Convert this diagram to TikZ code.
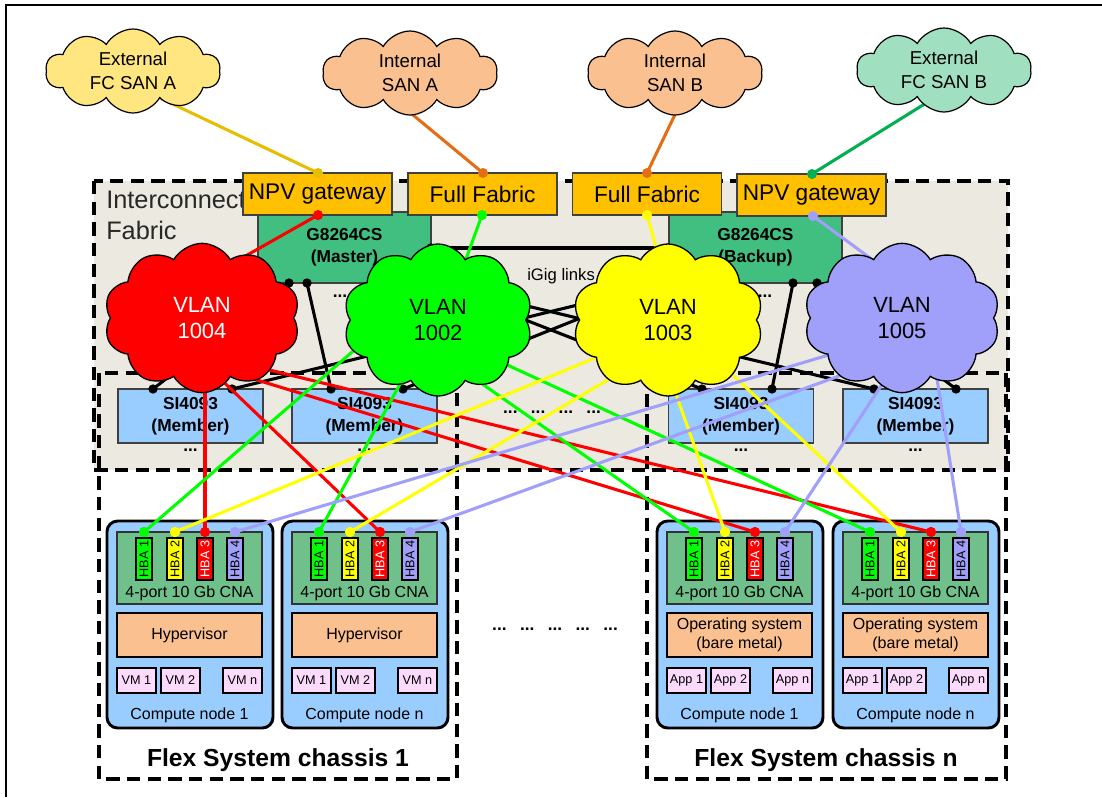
\documentclass[tikz,border=0pt]{standalone}
\usepackage{fontspec}
\setmainfont{Liberation Sans}
\usetikzlibrary{shapes.symbols}
\definecolor{beige}{RGB}{236,233,224}
\definecolor{orangebox}{RGB}{255,192,0}
\definecolor{gsw}{RGB}{64,191,128}
\definecolor{sibox}{RGB}{153,204,255}
\definecolor{cnagreen}{RGB}{112,192,140}
\definecolor{peach}{RGB}{250,192,144}
\definecolor{vmpink}{RGB}{252,218,252}
\definecolor{vred}{RGB}{255,0,0}
\definecolor{vgreen}{RGB}{0,255,0}
\definecolor{vyellow}{RGB}{255,255,0}
\definecolor{vlav}{RGB}{160,160,250}
\definecolor{sanA}{RGB}{255,230,128}
\definecolor{sanI}{RGB}{250,192,144}
\definecolor{sanB}{RGB}{160,224,192}
\definecolor{goldline}{RGB}{230,190,0}
\definecolor{orline}{RGB}{228,110,20}
\definecolor{grline}{RGB}{0,176,80}
\definecolor{txtgray}{RGB}{40,40,40}

\newcommand\cnnode[5]{%
\begin{scope}[shift={(#2,0)}]
\node[cnbox] (#1) at (83,624.5) {};
\node[cnabox] (#1cna) at (82.5,568) {};
\node[hba, fill=vgreen] (#1h1) at (37,559) {HBA 1};
\node[hba, fill=vyellow] (#1h2) at (68,559) {HBA 2};
\node[hba, fill=vred, text=white] (#1h3) at (98,559) {HBA 3};
\node[hba, fill=vlav] (#1h4) at (128,559) {HBA 4};
\node[ctext] (#1t) at (82.5,593) {4-port 10 Gb CNA};
\node[midbox] (#1m) at (82.5,635) {#3};
\node[itembox] (#1i1) at (29.5,680.5) {#4 1};
\node[itembox] (#1i2) at (73.5,680.5) {#4 2};
\node[itembox] (#1i3) at (135.5,680.5) {#4 n};
\node[ctext] (#1l) at (82.5,715) {#5};
\end{scope}}

\newcommand\cndots[2]{%
\begin{scope}[shift={(#2,0)}]
\node[cdot=vgreen] (#1d1) at (37,532) {};
\node[cdot=vyellow] (#1d2) at (68,532) {};
\node[cdot=vred] (#1d3) at (98,532) {};
\node[cdot=vlav] (#1d4) at (128,532) {};
\end{scope}}

\begin{document}
\begin{tikzpicture}[x=0.75pt,y=-0.75pt,
  dashbox/.style={draw=black, line width=2.7pt, dash pattern=on 10pt off 5.5pt},
  obox/.style={draw=black!75, line width=0.9pt, fill=orangebox, minimum width=111.75pt, minimum height=31.5pt, inner sep=0, font=\fontsize{17}{20}\selectfont},
  gbox/.style={draw=black!75, line width=0.9pt, fill=gsw, minimum width=129.75pt, minimum height=53.25pt, inner sep=0, align=center, font=\bfseries\fontsize{13}{16.5}\selectfont},
  sbox/.style={draw=black!75, line width=0.9pt, fill=sibox, minimum width=108.75pt, minimum height=40.5pt, inner sep=0, align=center, font=\bfseries\fontsize{13}{16.5}\selectfont},
  bdots/.style={font=\bfseries\fontsize{13}{15}\selectfont, inner sep=0},
  vcloud/.style={cloud, cloud puffs=10, cloud puff arc=120, cloud ignores aspect, draw=black, line width=1pt, inner sep=0, align=center, font=\fontsize{16.5}{20}\selectfont},
  scloud/.style={cloud, cloud puffs=10, cloud puff arc=120, cloud ignores aspect, draw=black, line width=0.9pt, inner sep=0, align=center, minimum width=131pt, minimum height=63pt, font=\fontsize{14}{18}\selectfont},
  vlink/.style={line width=2.3pt},
  blink/.style={line width=2.3pt, draw=black},
  bdot/.style={circle, fill=black, inner sep=0, minimum size=7pt},
  cdot/.style={circle, fill=#1, inner sep=0, minimum size=7.5pt},
  cnbox/.style={draw=black, line width=2.2pt, fill=sibox, rounded corners=8pt, minimum width=124.5pt, minimum height=155.25pt, inner sep=0},
  cnabox/.style={draw=black!80, line width=1pt, fill=cnagreen, minimum width=108.75pt, minimum height=54pt, inner sep=0},
  hba/.style={draw=black, line width=1pt, rotate=90, minimum width=31.5pt, minimum height=12pt, inner sep=0, font=\fontsize{9.5}{11}\selectfont},
  ctext/.style={inner sep=0, font=\fontsize{12}{14}\selectfont},
  midbox/.style={draw=black, line width=1.5pt, fill=peach, minimum width=108.75pt, minimum height=33pt, inner sep=0, align=center, font=\fontsize{12}{14.25}\selectfont},
  itembox/.style={draw=black, line width=1.5pt, fill=vmpink, minimum width=29.25pt, minimum height=18.75pt, inner sep=0, font=\fontsize{9.5}{11}\selectfont},
]
\useasboundingbox (0,0) rectangle (1102,797);
\fill[white] (0,0) rectangle (1102,797);
\draw[line width=1.1pt] (1102,5) -- (6,5) -- (6,797);

% dashed frames
\draw[dashbox, fill=beige] (94,181) rectangle (1008,470);
\draw[dashbox] (99,373) rectangle (457,779);
\draw[dashbox] (647,373) rectangle (1006,779);

\node[anchor=west, inner sep=0, align=left, text=txtgray, font=\fontsize{19}{23.25}\selectfont] (ictext) at (106,215.5) {Interconnect\\Fabric};

% switches
\node[gbox] (master) at (344.5,247.5) {G8264CS\\(Master)};
\node[gbox] (backup) at (755.5,247.5) {G8264CS\\(Backup)};
\node[bdots] (mdots) at (340,296) {...};
\node[bdots] (bkdots) at (765,296) {...};
\node[anchor=west, inner sep=0, font=\fontsize{12.5}{14}\selectfont] (gig) at (527,276) {iGig links};

\node[sbox] (si1) at (190.5,416) {SI4093\\(Member)};
\node[sbox] (si2) at (364.5,416) {SI4093\\(Member)};
\node[sbox] (si3) at (741,416) {SI4093\\(Member)};
\node[sbox] (si4) at (915.5,416) {SI4093\\(Member)};
\node[bdots] (si1d) at (190.5,450) {...};
\node[bdots] (si2d) at (364.5,450) {...};
\node[bdots] (si3d) at (741,450) {...};
\node[bdots] (si4d) at (915.5,450) {...};
\node[bdots] (middots) at (552,412) {...\hspace{10pt}...\hspace{10pt}...\hspace{10pt}...};
\node[bdots] (botdots) at (555,629) {...\hspace{10pt}...\hspace{10pt}...\hspace{10pt}...\hspace{10pt}...};

% black link end points
\node[bdot] (mtr) at (431,248) {};
\node[bdot] (btl) at (668,248) {};
\node[bdot] (m1) at (289,283) {};
\node[bdot] (m2) at (307,283) {};
\node[bdot] (m3) at (431,283) {};
\node[bdot] (b1) at (668,283) {};
\node[bdot] (b2) at (793,283) {};
\node[bdot] (b3) at (817,283) {};
\node[bdot] (s1a) at (153,389) {};
\node[bdot] (s1b) at (232,389) {};
\node[bdot] (s2a) at (331,389) {};
\node[bdot] (s2b) at (403,389) {};
\node[bdot] (s3a) at (702,389) {};
\node[bdot] (s3b) at (772,389) {};
\node[bdot] (s4a) at (874,389) {};
\node[bdot] (s4b) at (956,389) {};
\draw[blink] (mtr.center) -- (btl.center);
\draw[blink] (m1.center) -- (s1a.center);
\draw[blink] (m2.center) -- (s2a.center);
\draw[blink] (m3.center) -- (s3a.center);
\draw[blink] (m3.center) -- (s4a.center);
\draw[blink] (b1.center) -- (s1b.center);
\draw[blink] (b1.center) -- (s2b.center);
\draw[blink] (b2.center) -- (s3b.center);
\draw[blink] (b3.center) -- (s4b.center);

% compute nodes
\cnnode{na}{107}{Hypervisor}{VM}{Compute node 1}
\cnnode{nb}{282}{Hypervisor}{VM}{Compute node n}
\cnnode{nc}{657}{Operating system\\(bare metal)}{App}{Compute node 1}
\cnnode{nd}{833}{Operating system\\(bare metal)}{App}{Compute node n}
\node[inner sep=0, font=\bfseries\fontsize{18.5}{22}\selectfont] (ch1) at (278,760) {Flex System chassis 1};
\node[inner sep=0, font=\bfseries\fontsize{18.5}{22}\selectfont] (chn) at (826,760) {Flex System chassis n};

% cloud-internal start points
\coordinate (rA) at (205,370); \coordinate (rB) at (208,367);
\coordinate (rC) at (221,369); \coordinate (rD) at (241,363);
\coordinate (gA) at (366,340); \coordinate (gB) at (411,364);
\coordinate (gC) at (448,360); \coordinate (gD) at (490,357);
\coordinate (yA) at (595,358); \coordinate (yB) at (633,365);
\coordinate (yC) at (667,369); \coordinate (yD) at (708,352);
\coordinate (lA) at (842,351); \coordinate (lB) at (861,368);
\coordinate (lC) at (896,363); \coordinate (lD) at (932,347);
\coordinate (rT) at (212,275); \coordinate (gT) at (458,281);
\coordinate (yT) at (667,285); \coordinate (lT) at (927,300);

\cndots{na}{107}
\cndots{nb}{282}
\cndots{nc}{657}
\cndots{nd}{833}

\begin{scope}[vlink]
\draw[vred] (rA) -- (nad3.center); \draw[vred] (rB) -- (nbd3.center);
\draw[vred] (rC) -- (ncd3.center); \draw[vred] (rD) -- (ndd3.center);
\draw[vgreen] (gA) -- (nad1.center); \draw[vgreen] (gB) -- (nbd1.center);
\draw[vgreen] (gC) -- (ncd1.center); \draw[vgreen] (gD) -- (ndd1.center);
\draw[vyellow] (yA) -- (nad2.center); \draw[vyellow] (yB) -- (nbd2.center);
\draw[vyellow] (yC) -- (ncd2.center); \draw[vyellow] (yD) -- (ndd2.center);
\draw[vlav] (lA) -- (nad4.center); \draw[vlav] (lB) -- (nbd4.center);
\draw[vlav] (lC) -- (ncd4.center); \draw[vlav] (lD) -- (ndd4.center);
\end{scope}

\cndots{na}{107}
\cndots{nb}{282}
\cndots{nc}{657}
\cndots{nd}{833}

% box-to-cloud lines
\node[cdot=vred] (npv1d) at (318,215) {};
\node[cdot=vgreen] (ff1d) at (482,215) {};
\node[cdot=vyellow] (ff2d) at (647,215) {};
\node[cdot=vlav] (npv2d) at (813,216) {};
\draw[vlink, vred] (npv1d.center) -- (rT);
\draw[vlink, vgreen] (ff1d.center) -- (gT);
\draw[vlink, vyellow] (ff2d.center) -- (yT);
\draw[vlink, vlav] (npv2d.center) -- (lT);

% VLAN clouds
\node[vcloud, fill=vred, text=white, minimum width=147pt, minimum height=112pt] (v1004) at (202,318) {VLAN\\1004};
\node[vcloud, fill=vgreen, minimum width=142pt, minimum height=114pt] (v1002) at (438,320) {VLAN\\1002};
\node[vcloud, fill=vyellow, minimum width=143pt, minimum height=114pt] (v1003) at (668,320) {VLAN\\1003};
\node[vcloud, fill=vlav, minimum width=147pt, minimum height=112pt] (v1005) at (902,318) {VLAN\\1005};

% orange boxes
\node[obox] (npv1) at (317.5,194) {NPV gateway};
\node[obox] (ff1) at (482.5,194) {Full Fabric};
\node[obox] (ff2) at (647,194) {Full Fabric};
\node[obox] (npv2) at (811.5,195) {NPV gateway};
\node[cdot=vred] (npv1d) at (318,215) {};
\node[cdot=vgreen] (ff1d) at (482,215) {};
\node[cdot=vyellow] (ff2d) at (647,215) {};
\node[cdot=vlav] (npv2d) at (813,216) {};

% SAN clouds
\coordinate (sa) at (139,88); \coordinate (sia) at (395,100);
\coordinate (sib) at (681,102); \coordinate (sb) at (939,95);
\node[cdot=goldline] (npv1t) at (318,173) {};
\node[cdot=orline] (ff1t) at (483,173) {};
\node[cdot=orline] (ff2t) at (647,173) {};
\node[cdot=grline] (npv2t) at (812,174) {};
\draw[vlink, goldline] (sa) -- (npv1t.center);
\draw[vlink, orline] (sia) -- (ff1t.center);
\draw[vlink, orline] (sib) -- (ff2t.center);
\draw[vlink, grline] (sb) -- (npv2t.center);
\node[scloud, fill=sanA] (sanA) at (133,71) {External\\FC SAN A};
\node[scloud, fill=sanI] (sanIA) at (410,73) {Internal\\SAN A};
\node[scloud, fill=sanI] (sanIB) at (675,73) {Internal\\SAN B};
\node[scloud, fill=sanB] (sanB) at (944,70) {External\\FC SAN B};
\end{tikzpicture}
\end{document}
